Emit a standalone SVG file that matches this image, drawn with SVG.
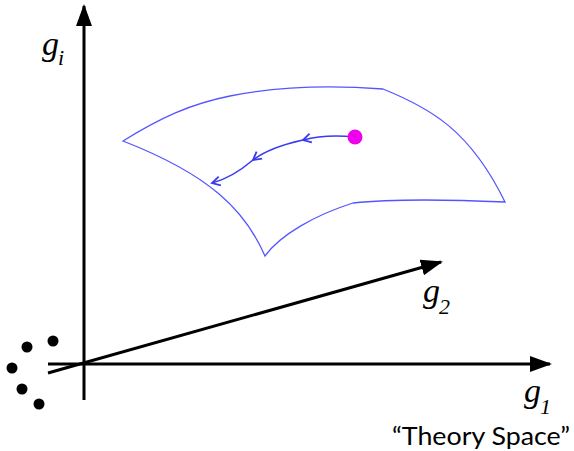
<svg xmlns="http://www.w3.org/2000/svg" width="574" height="451" viewBox="0 0 574 451">
<style>
.axis{stroke:#000;stroke-width:3;fill:none}
.surf{stroke:#5555ff;stroke-width:1.3;fill:none;stroke-linejoin:miter}
.flow{stroke:#3a3af0;stroke-width:1.6;fill:none}
.lab{font-family:"Liberation Serif","DejaVu Serif",serif;font-style:italic;fill:#000;font-size:34px}
.sub{font-size:22px}
.cap{font-family:Lato,"Liberation Sans",sans-serif;fill:#000}
</style>
<defs>
<marker id="ah" markerUnits="userSpaceOnUse" markerWidth="24" markerHeight="18" refX="20" refY="8" orient="auto" viewBox="0 0 24 16">
<path d="M0,0 L22,8 L0,16 Z" fill="#000"/>
</marker>
<marker id="fa" markerUnits="userSpaceOnUse" markerWidth="14" markerHeight="12" refX="10" refY="6" orient="auto" viewBox="0 0 14 12">
<path d="M2,1.5 L10,6 L2,10.5" fill="none" stroke="#3a3af0" stroke-width="1.8"/>
</marker>
</defs>
<g id="axes">
<line id="axis-gi" class="axis" x1="84" y1="400" x2="84" y2="6" marker-end="url(#ah)"/>
<line id="axis-g1" class="axis" x1="48" y1="364" x2="550" y2="364" marker-end="url(#ah)"/>
<line id="axis-g2" class="axis" x1="48" y1="373" x2="441" y2="262" marker-end="url(#ah)"/>
</g>
<g id="dots" fill="#000">
<circle cx="53" cy="341" r="5.5"/>
<circle cx="27" cy="347" r="5.5"/>
<circle cx="12" cy="368" r="5.5"/>
<circle cx="22" cy="389" r="5.5"/>
<circle cx="39" cy="404" r="5.5"/>
</g>
<g id="surface">
<path class="surf" d="M123,141 C160,118 190,104 230,96 C280,86 330,85 383,89 C430,108 470,130 505,202 C460,200 400,198 353,203 C315,215 280,235 265,256 C245,210 210,175 123,141 Z"/>
</g>
<g id="flow">
<path class="flow" d="M355,137 C335,135 318,136 303,140" marker-end="url(#fa)"/>
<path class="flow" d="M303,140 C285,144 266,150 253,160" marker-end="url(#fa)"/>
<path class="flow" d="M253,160 C240,171 228,179 212,183" marker-end="url(#fa)"/>
</g>
<g id="point">
<circle cx="355" cy="137" r="7.5" fill="#ee00ee"/>
</g>
<g id="labels">
<text class="lab" x="42" y="55">g<tspan class="sub" dx="-1" dy="10">i</tspan></text>
<text class="lab" x="423" y="302">g<tspan class="sub" dx="-1" dy="12">2</tspan></text>
<text class="lab" x="524" y="402">g<tspan class="sub" dx="-1" dy="12">1</tspan></text>
<text class="cap" x="392" y="445" font-size="25" textLength="178" lengthAdjust="spacingAndGlyphs">“Theory Space”</text>
</g>
</svg>
